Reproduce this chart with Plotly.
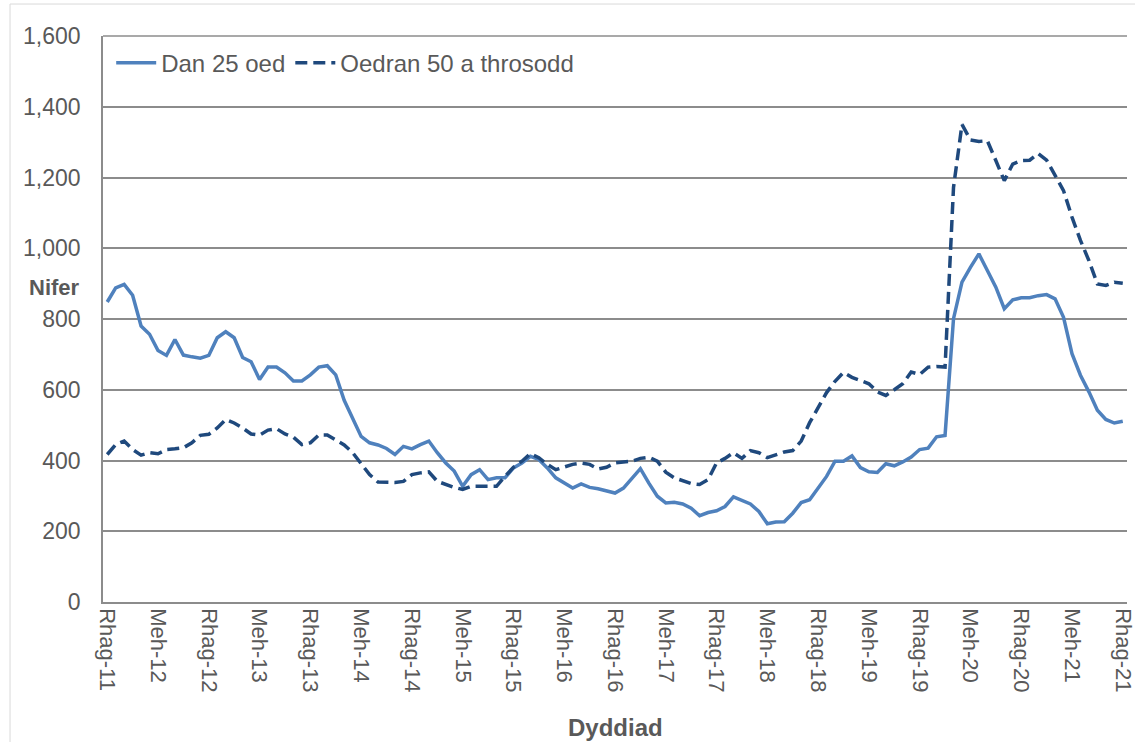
# Claimant counts by age band, Dec 2011 - Dec 2021 (monthly)
import plotly.graph_objects as go

tick_labels = [
    "Rhag-11", "Meh-12", "Rhag-12", "Meh-13", "Rhag-13", "Meh-14", "Rhag-14",
    "Meh-15", "Rhag-15", "Meh-16", "Rhag-16", "Meh-17", "Rhag-17", "Meh-18",
    "Rhag-18", "Meh-19", "Rhag-19", "Meh-20", "Rhag-20", "Meh-21", "Rhag-21",
]

dan_25 = [
    848, 888, 898, 867, 780, 757, 711, 697, 742, 698, 693, 689, 697, 747, 764, 747,
    691, 679, 629, 664, 664, 648, 625, 625, 642, 664, 668, 642, 570, 520, 468, 450,
    444, 434, 417, 440, 433, 445, 455, 422, 393, 370, 327, 360, 374, 346, 351, 351,
    379, 393, 412, 403, 379, 351, 336, 322, 334, 324, 320, 315, 308, 322, 349, 377,
    336, 299, 280, 282, 277, 265, 244, 253, 258, 270, 297, 286, 277, 256, 221, 226,
    227, 251, 281, 289, 322, 355, 398, 398, 413, 380, 368, 366, 391, 385, 396, 410,
    431, 435, 467, 471, 801, 904, 946, 984, 937, 890, 829, 854, 860, 860, 866, 869,
    857, 805, 702, 641, 594, 542, 516, 506, 511,
]

oedran_50 = [
    417, 445, 455, 431, 415, 422, 419, 431, 433, 436, 450, 471, 474, 492, 516, 506,
    492, 475, 472, 486, 490, 475, 466, 445, 450, 472, 472, 457, 444, 422, 389, 360,
    339, 338, 338, 341, 360, 365, 368, 341, 332, 324, 318, 327, 327, 327, 327, 355,
    381, 398, 419, 408, 389, 374, 381, 389, 393, 389, 376, 381, 393, 395, 398, 406,
    409, 398, 367, 351, 343, 335, 332, 346, 393, 406, 422, 406, 428, 422, 408, 417,
    424, 428, 455, 507, 550, 592, 624, 649, 635, 626, 617, 594, 584, 600, 617, 650,
    643, 664, 666, 664, 1172, 1350, 1306, 1302, 1304, 1248, 1191, 1238, 1248, 1249,
    1268, 1249, 1205, 1163, 1088, 1022, 965, 899, 895, 904, 901,
]

months = list(range(len(dan_25)))
TXT = "#595959"
GRID = "#8C8C8C"

fig = go.Figure()
fig.add_trace(go.Scatter(
    x=months, y=dan_25, mode="lines", name="Dan 25 oed",
    line=dict(color="#4F81BD", width=3.5),
))
fig.add_trace(go.Scatter(
    x=months, y=oedran_50, mode="lines", name="Oedran 50 a throsodd",
    line=dict(color="#1F497D", width=3.5, dash="12px,6px"),
))

fig.update_layout(
    width=1135, height=742,
    paper_bgcolor="white", plot_bgcolor="white",
    margin=dict(l=103, r=8, t=36, b=140),
    font=dict(family="Liberation Sans, Arial, sans-serif", size=22, color=TXT),
    showlegend=True,
    legend=dict(
        orientation="h", x=0.008, y=0.992, xanchor="left", yanchor="top",
        font=dict(size=24, color=TXT), bgcolor="rgba(0,0,0,0)",
        itemwidth=40, tracegroupgap=0,
    ),
    xaxis=dict(
        range=[-0.5, len(months) - 0.5], automargin=False,
        tickvals=months[::6], ticktext=tick_labels, tickangle=90,
        ticklabeloverflow="allow",
        showgrid=False, zeroline=False,
        showline=True, linecolor=GRID, linewidth=1.5,
        ticks="", tickfont=dict(size=22, color=TXT),
    ),
    yaxis=dict(
        range=[0, 1600], dtick=200, tickformat=",", automargin=False,
        showgrid=True, gridcolor=GRID, gridwidth=1.5,
        zeroline=False, showline=True, linecolor=GRID, linewidth=1.5,
        ticks="", ticklabelstandoff=16, tickfont=dict(size=23, color=TXT),
    ),
    annotations=[
        dict(text="<b>Nifer</b>", xref="paper", yref="y", x=-0.047, y=888,
             xanchor="center", yanchor="middle",
             showarrow=False, font=dict(size=22, color=TXT)),
        dict(text="<b>Dyddiad</b>", xref="paper", yref="paper", x=0.5, y=-0.2226,
             xanchor="center", yanchor="middle",
             showarrow=False, font=dict(size=24, color=TXT)),
    ],
    shapes=[
        dict(type="line", xref="paper", yref="paper", x0=0, x1=1, y0=1, y1=1,
             line=dict(color=GRID, width=1.5)),
        dict(type="rect", xref="paper", yref="paper",
             x0=-0.0908, x1=1.05, y0=-0.3, y1=1.0565,
             line=dict(color="#D9D9D9", width=1)),
    ],
)

fig.write_html("out.html", config={"displayModeBar": False},
               post_script="document.body.style.margin='0';")
